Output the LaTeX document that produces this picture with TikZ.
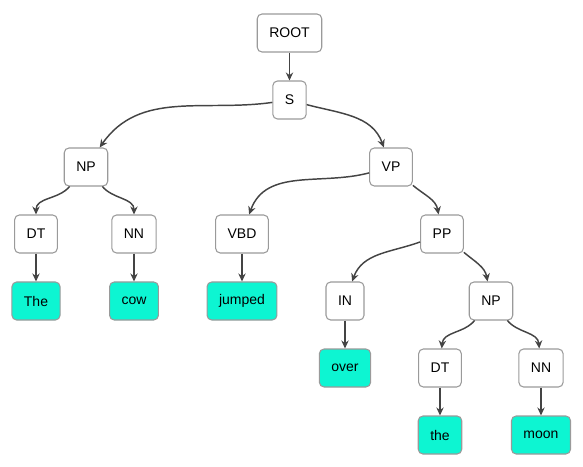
\documentclass[tikz,border=0pt]{standalone}
\usepackage{fontspec}
\setmainfont{Liberation Sans}
\usetikzlibrary{arrows.meta}
\definecolor{edgegray}{HTML}{444444}
\definecolor{boxgray}{HTML}{9A9A9A}
\definecolor{leafcyan}{HTML}{0DF5D2}
\tikzset{
  cat/.style={draw=boxgray, fill=white, rounded corners=3.5pt, line width=0.8pt,
    minimum height=28.5pt, minimum width=24.5pt, inner xsep=9pt,
    font=\fontsize{10.5}{12}\selectfont},
  word/.style={cat, fill=leafcyan},
  edge/.style={draw=edgegray, line width=1.1pt, -{Stealth[length=6pt,width=5.5pt]}}
}
\begin{document}
\begin{tikzpicture}[x=0.75pt,y=-0.75pt]
\useasboundingbox (0,0) rectangle (583,467);
\node[cat] (root) at (289.5,33) {ROOT};
\node[cat] (s) at (289.5,100) {S};
\node[cat] (np) at (86,167) {NP};
\node[cat] (vp) at (391,167) {VP};
\node[cat] (dt) at (36,234) {DT};
\node[cat] (nn) at (134,234) {NN};
\node[cat] (vbd) at (242,234) {VBD};
\node[cat] (pp) at (442,234) {PP};
\node[word] (the) at (36,301) {The};
\node[word] (cow) at (134,301) {cow};
\node[word] (jumped) at (242,301) {jumped};
\node[cat] (in) at (345,301) {IN};
\node[cat] (np2) at (491,301) {NP};
\node[word] (over) at (345,368) {over};
\node[cat] (dt2) at (440,368) {DT};
\node[cat] (nn2) at (541,368) {NN};
\node[word] (the2) at (440,435) {the};
\node[word] (moon) at (541,435) {moon};
% edges
\draw[edge] (root) -- (s);
\draw[edge] (s) to[out=188,in=55] (np);
\draw[edge] (s) to[out=-15,in=110] (vp);
\draw[edge] (np) to[out=-130,in=90] (dt);
\draw[edge] (np) to[out=-50,in=90] (nn);
\draw[edge] (vp) to[out=195,in=70] (vbd);
\draw[edge] (vp) to[out=-40,in=100] (pp);
\draw[edge] (dt) -- (the);
\draw[edge] (nn) -- (cow);
\draw[edge] (vbd) -- (jumped);
\draw[edge] (pp) to[out=200,in=70] (in);
\draw[edge] (pp) to[out=-40,in=100] (np2);
\draw[edge] (in) -- (over);
\draw[edge] (np2) to[out=-130,in=85] (dt2);
\draw[edge] (np2) to[out=-50,in=95] (nn2);
\draw[edge] (dt2) -- (the2);
\draw[edge] (nn2) -- (moon);
\end{tikzpicture}
\end{document}
